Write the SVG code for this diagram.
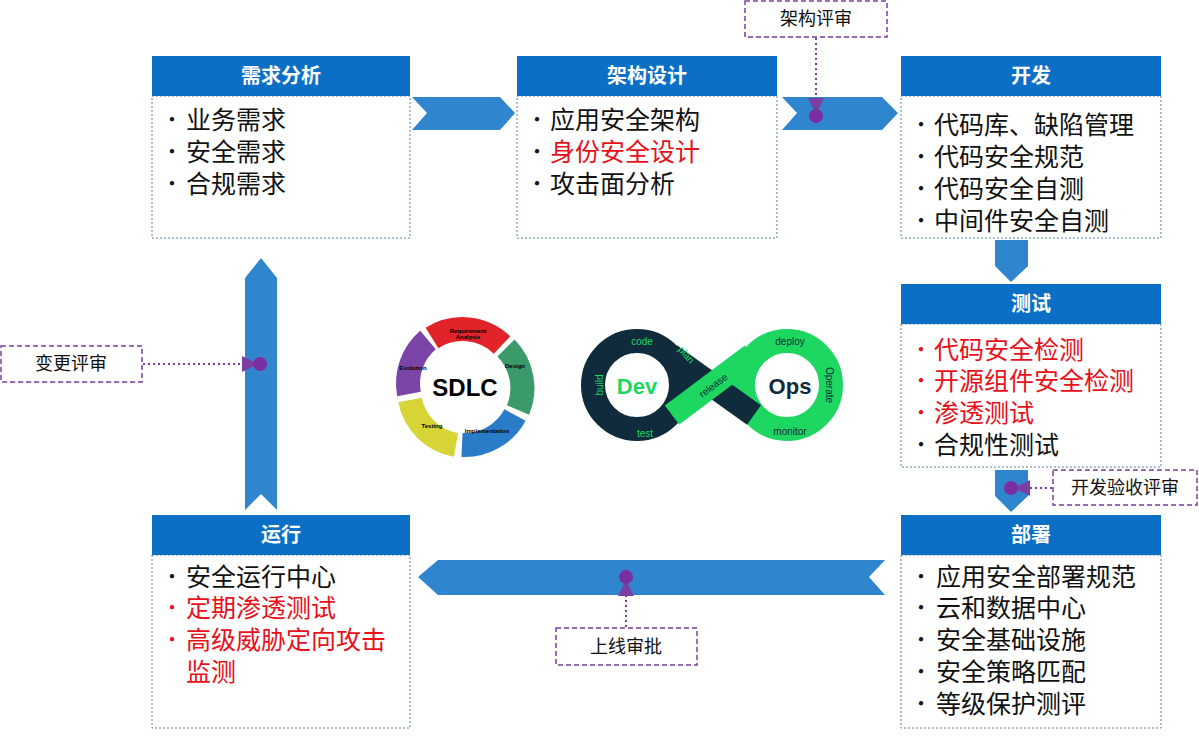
<svg xmlns="http://www.w3.org/2000/svg" width="1199" height="737" viewBox="0 0 1199 737">
<style>
.hd{fill:#0b6fc6}
.bd{fill:#fff;stroke:#5b7fa6;stroke-dasharray:2 2;stroke-width:1}
.ht{font-family:"Noto Sans CJK SC",sans-serif;font-weight:bold;font-size:20px;fill:#fff;text-anchor:middle}
.t{font-family:"Noto Sans CJK SC",sans-serif;font-size:25px;fill:#111}
.b{font-family:"Noto Sans CJK SC",sans-serif;font-size:20px;fill:#111}
.r{fill:#e8101a}
.arr{fill:#2f86cf}
.rv{fill:#fff;stroke:#7a3fa0;stroke-dasharray:5 3;stroke-width:1.5}
.rt{font-family:"Noto Sans CJK SC",sans-serif;font-size:18px;fill:#111;text-anchor:middle}
.dl{stroke:#7a3fa0;stroke-width:2;stroke-dasharray:2 3;fill:none}
.dot{fill:#7a2fa0}
.st{font-family:"Liberation Sans",sans-serif;font-size:6px;font-weight:bold;text-anchor:middle;fill:#000;stroke:none}
.dv{font-family:"Liberation Sans",sans-serif;font-size:10px;fill:#1ed760;text-anchor:middle;stroke:none}
.dk{fill:#0f2b3c}
</style>
<defs><marker id="m" markerWidth="8" markerHeight="8" refX="4" refY="4" orient="auto"><path d="M0,0L8,4L0,8z" fill="#7a3fa0"/></marker></defs>
<g id="connectors">
<polygon class="arr" points="412,97 500,97 515,113 500,130 412,130 427,113"/>
<polygon class="arr" points="782,97 882,97 898,113 882,130 782,130 797,113"/>
<polygon class="arr" points="995,240 1028,240 1028,266 1011,282 995,266"/>
<polygon class="arr" points="995,470 1028,470 1028,496 1011,512 995,496"/>
<polygon class="arr" points="885,560 869,577 885,595 438,595 418,577 438,560"/>
<polygon class="arr" points="245,278 261,258 277,278 277,510 261,494 245,510"/>
<path class="dl" d="M816,38V106" marker-end="url(#m)"/><circle class="dot" cx="816" cy="116" r="7"/>
<path class="dl" d="M143,364H250" marker-end="url(#m)"/><circle class="dot" cx="260" cy="364" r="7"/>
<path class="dl" d="M1052,488H1022" marker-end="url(#m)"/><circle class="dot" cx="1011" cy="488" r="7"/>
<path class="dl" d="M626,627V588" marker-end="url(#m)"/><circle class="dot" cx="626" cy="577" r="7"/>
</g>
<g id="n1"><rect class="bd" x="152" y="96" width="258" height="142"/><rect class="hd" x="152" y="56" width="258" height="40"/><text class="ht" x="281" y="83">需求分析</text>
<text class="b" x="162" y="127">•</text><text class="b" x="162" y="159">•</text><text class="b" x="162" y="191">•</text>
<text class="t" x="186" y="129">业务需求</text><text class="t" x="186" y="161">安全需求</text><text class="t" x="186" y="193">合规需求</text></g>
<g id="n2"><rect class="bd" x="517" y="96" width="260" height="142"/><rect class="hd" x="517" y="56" width="260" height="40"/><text class="ht" x="647" y="83">架构设计</text>
<text class="b" x="527" y="127">•</text><text class="b" x="527" y="159">•</text><text class="b" x="527" y="191">•</text>
<text class="t" x="550" y="129">应用安全架构</text><text class="t r" x="550" y="161">身份安全设计</text><text class="t" x="550" y="193">攻击面分析</text></g>
<g id="n3"><rect class="bd" x="901" y="96" width="260" height="142"/><rect class="hd" x="901" y="56" width="260" height="40"/><text class="ht" x="1031" y="83">开发</text>
<text class="b" x="911" y="132">•</text><text class="b" x="911" y="164">•</text><text class="b" x="911" y="196">•</text><text class="b" x="911" y="228">•</text>
<text class="t" x="934" y="134">代码库、缺陷管理</text><text class="t" x="934" y="166">代码安全规范</text><text class="t" x="934" y="198">代码安全自测</text><text class="t" x="934" y="230">中间件安全自测</text></g>
<g id="n4"><rect class="bd" x="901" y="324" width="260" height="143"/><rect class="hd" x="901" y="284" width="260" height="40"/><text class="ht" x="1031" y="311">测试</text>
<text class="b r" x="911" y="357">•</text><text class="b r" x="911" y="388">•</text><text class="b r" x="911" y="420">•</text><text class="b" x="911" y="452">•</text>
<text class="t r" x="934" y="359">代码安全检测</text><text class="t r" x="934" y="390">开源组件安全检测</text><text class="t r" x="934" y="422">渗透测试</text><text class="t" x="934" y="454">合规性测试</text></g>
<g id="n5"><rect class="bd" x="901" y="555" width="260" height="173"/><rect class="hd" x="901" y="515" width="260" height="40"/><text class="ht" x="1031" y="542">部署</text>
<text class="b" x="911" y="584">•</text><text class="b" x="911" y="615">•</text><text class="b" x="911" y="647">•</text><text class="b" x="911" y="679">•</text><text class="b" x="911" y="711">•</text>
<text class="t" x="936" y="586">应用安全部署规范</text><text class="t" x="936" y="617">云和数据中心</text><text class="t" x="936" y="649">安全基础设施</text><text class="t" x="936" y="681">安全策略匹配</text><text class="t" x="936" y="713">等级保护测评</text></g>
<g id="n6"><rect class="bd" x="152" y="555" width="258" height="173"/><rect class="hd" x="152" y="515" width="258" height="40"/><text class="ht" x="281" y="542">运行</text>
<text class="b" x="162" y="584">•</text><text class="b r" x="162" y="615">•</text><text class="b r" x="162" y="647">•</text>
<text class="t" x="186" y="586">安全运行中心</text><text class="t r" x="186" y="617">定期渗透测试</text><text class="t r" x="186" y="649">高级威胁定向攻击</text><text class="t r" x="186" y="681">监测</text></g>
<g id="r1"><rect class="rv" x="745" y="1" width="142" height="36"/><text class="rt" x="816" y="25">架构评审</text></g>
<g id="r2"><rect class="rv" x="1" y="346" width="141" height="36"/><text class="rt" x="71" y="370">变更评审</text></g>
<g id="r3"><rect class="rv" x="1053" y="470" width="144" height="35"/><text class="rt" x="1125" y="494">开发验收评审</text></g>
<g id="r4"><rect class="rv" x="556" y="628" width="141" height="37"/><text class="rt" x="626" y="653">上线审批</text></g>
<g id="sdlc" fill="none" stroke-width="24">
<path d="M432,338A57,57 0 0 1 502,345" stroke="#e0242a"/>
<path d="M506,348A57,57 0 0 1 518,410" stroke="#3a9a6a"/>
<path d="M515,415A57,57 0 0 1 462,445" stroke="#2a7bc8"/>
<path d="M456,445A57,57 0 0 1 410,400" stroke="#d7d438"/>
<path d="M409,394A57,57 0 0 1 428,340" stroke="#7b45a8"/>
<text x="465" y="396" font-family="Liberation Sans,sans-serif" font-size="24" font-weight="bold" fill="#000" stroke="none" text-anchor="middle">SDLC</text>
<text class="st" x="468" y="333">Requirement</text><text class="st" x="468" y="339">Analysis</text>
<text class="st" x="515" y="368">Design</text><text class="st" x="413" y="370">Evolution</text>
<text class="st" x="432" y="428">Testing</text><text class="st" x="487" y="433">Implementation</text>
</g>
<g id="devops" fill="none" stroke-width="24">
<circle cx="637" cy="385" r="44" stroke="#0f2b3c"/>
<circle cx="787" cy="385" r="44" stroke="#1ed760"/>
<path d="M670,355L754,415" stroke="#0f2b3c"/>
<path d="M672,415L752,355" stroke="#1ed760"/>
<text x="637" y="394" font-family="Liberation Sans,sans-serif" font-size="22" font-weight="bold" fill="#1ed760" stroke="none" text-anchor="middle">Dev</text>
<text x="790" y="394" font-family="Liberation Sans,sans-serif" font-size="22" font-weight="bold" fill="#0f2b3c" stroke="none" text-anchor="middle">Ops</text>
<text class="dv" x="642" y="345">code</text><text class="dv" x="645" y="437">test</text>
<text class="dv" x="599" y="389" transform="rotate(-90 599 385)">build</text>
<text class="dv" x="686" y="358" transform="rotate(50 686 355)">plan</text>
<text class="dv dk" x="790" y="345">deploy</text>
<text class="dv dk" x="790" y="435">monitor</text>
<text class="dv dk" x="830" y="389" transform="rotate(90 830 385)">Operate</text>
<text class="dv dk" x="713" y="389" transform="rotate(-37 713 385)">release</text>
</g>
</svg>
